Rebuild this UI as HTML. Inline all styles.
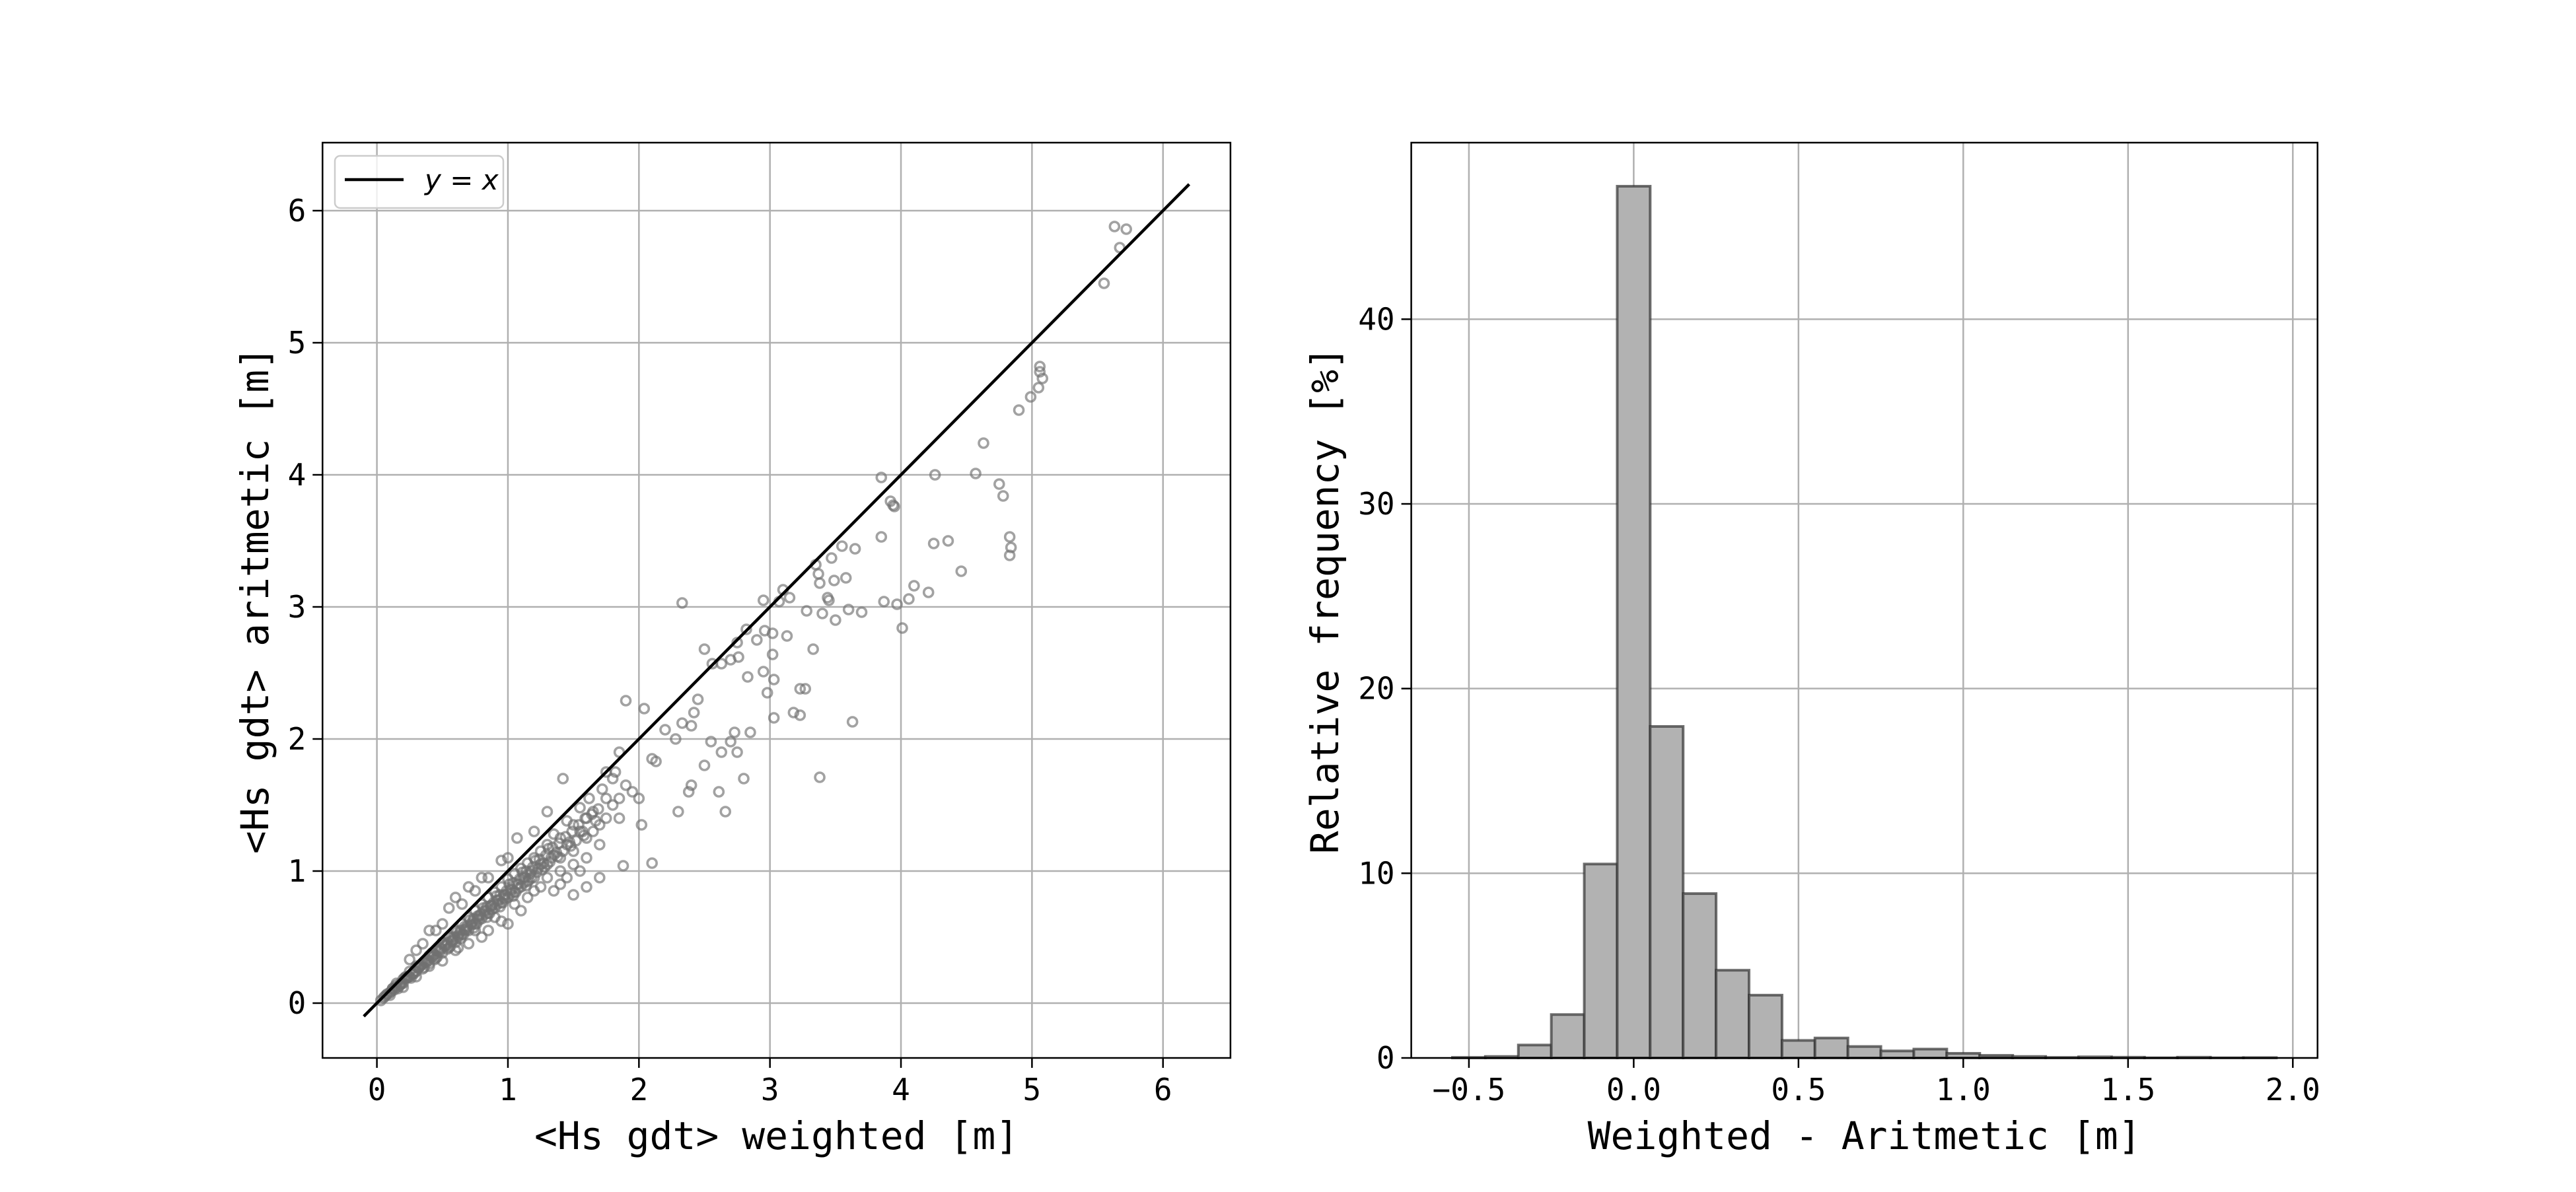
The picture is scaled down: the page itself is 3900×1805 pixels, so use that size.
<!DOCTYPE html>
<html><head><meta charset="utf-8"><style>
html,body{margin:0;padding:0;background:#fff;}
svg text{font-family:"DejaVu Sans Mono","Liberation Mono",monospace;fill:#000;}
</style></head><body>
<svg id="fig" width="3900" height="1800" viewBox="0 0 3900 1800" xmlns="http://www.w3.org/2000/svg">
<rect x="0" y="0" width="3900" height="1800" fill="#fff"/>
<g id="left"></g>
<g id="right"></g>
</svg>
<script>
// ---- scatter data ----
const scatterX = [5.63,5.72,5.67,5.55,5.06,5.06,5.08,5.05,4.99,4.90,4.63,4.26,4.57,4.75,4.78,3.85,3.92,3.94,3.95,4.83,4.84,4.83,4.36,4.25,4.46,3.85,3.55,3.65,3.47,4.10,4.21,3.58,3.49,3.37,3.38,3.15,3.10,3.35,3.87,3.97,4.06,4.01,3.44,3.45,3.60,3.70,3.50,3.40,3.28,2.33,2.95,3.07,2.82,2.96,2.75,3.02,3.13,2.76,2.70,2.90,2.63,2.50,2.56,3.33,3.02,2.83,2.95,3.03,2.98,3.23,3.27,3.18,3.23,3.03,3.63,1.90,2.04,2.45,2.42,2.40,2.33,2.20,2.10,2.28,2.55,2.70,2.73,2.85,2.50,2.63,2.75,2.40,2.38,2.30,2.61,2.66,2.80,3.38,2.00,2.02,1.88,2.10,1.85,1.90,2.13,1.75,1.85,
0.05,0.08,0.1,0.12,0.15,0.15,0.18,0.2,0.2,0.22,0.25,0.25,0.28,0.3,0.3,0.32,0.35,0.35,0.38,0.4,0.4,0.42,0.45,0.45,0.48,0.5,0.5,0.52,0.55,0.55,0.58,0.6,0.6,0.62,0.65,0.65,0.68,0.7,0.7,0.72,0.75,0.75,0.78,0.8,0.8,0.82,0.85,0.85,0.88,0.9,0.9,0.92,0.95,0.95,0.98,1.0,1.0,1.02,1.05,1.05,1.08,1.1,1.1,1.12,1.15,1.15,1.18,1.2,1.2,1.25,1.25,1.3,1.3,1.35,1.4,1.4,1.45,1.5,1.5,1.55,1.6,1.6,1.65,1.7,1.75,1.8,1.8,1.42,1.3,1.2,1.07,0.95,0.8,0.7,0.6,0.55,0.4,0.35,0.3,0.25,0.5,0.45,0.65,0.75,0.85,1.0,0.6,0.75,0.9,1.05,1.2,1.3,1.4,1.5,1.6,1.7,1.55,1.45,1.35,1.0,1.1,0.8,0.62,0.4,0.5,0.7,0.95,1.25,1.65,1.75,1.85,1.95,1.7,1.6,1.5,1.4,0.3,0.2,0.1,1.15,0.85,1.35,1.45,1.55,1.62,1.72,1.82,
0.03,0.06,0.13,0.17,0.23,0.27,0.33,0.37,0.43,0.47,0.53,0.57,0.63,0.67,0.73,0.77,0.83,0.87,0.93,0.97,1.03,1.13,1.23,1.33,0.16,0.26,0.36,0.46,0.56,0.66,0.76,0.86,0.96,1.06,1.16,1.26,
0.07,0.11,0.14,0.19,0.21,0.24,0.29,0.31,0.34,0.39,0.41,0.44,0.49,0.51,0.54,0.59,0.61,0.64,0.69,0.71,0.74,0.79,0.81,0.84,0.89,0.91,0.94,0.99,1.01,1.04,1.09,1.11,1.14,1.19,1.21,1.24,1.29,1.31,1.34,1.39,1.44,1.49,1.54,1.59,1.64,1.69,
0.12,0.22,0.32,0.42,0.52,0.62,0.72,0.82,0.92,1.02,1.12,1.22,1.32,1.42,1.52,0.18,0.28,0.38,0.48,0.58,0.68,0.78,0.88,0.98,1.08,1.18,1.28,1.38,1.48,1.58,
0.44,0.54,0.64,0.74,0.84,0.94,1.04,1.14,0.57,0.67,0.77,0.87,0.97,1.07,1.17,1.27,1.37,1.47,1.57,1.67];
const scatterY = [5.88,5.86,5.72,5.45,4.82,4.78,4.73,4.66,4.59,4.49,4.24,4.00,4.01,3.93,3.84,3.98,3.80,3.77,3.76,3.53,3.45,3.39,3.50,3.48,3.27,3.53,3.46,3.44,3.37,3.16,3.11,3.22,3.20,3.25,3.18,3.07,3.13,3.32,3.04,3.02,3.06,2.84,3.07,3.05,2.98,2.96,2.90,2.95,2.97,3.03,3.05,3.04,2.83,2.82,2.73,2.80,2.78,2.62,2.60,2.75,2.57,2.68,2.57,2.68,2.64,2.47,2.51,2.45,2.35,2.38,2.38,2.20,2.18,2.16,2.13,2.29,2.23,2.30,2.20,2.10,2.12,2.07,1.85,2.00,1.98,1.98,2.05,2.05,1.80,1.90,1.90,1.65,1.60,1.45,1.60,1.45,1.70,1.71,1.55,1.35,1.04,1.06,1.40,1.65,1.83,1.75,1.90,
0.04,0.07,0.08,0.11,0.12,0.15,0.14,0.18,0.15,0.2,0.2,0.24,0.22,0.28,0.24,0.27,0.3,0.26,0.33,0.36,0.3,0.38,0.4,0.34,0.42,0.46,0.38,0.44,0.5,0.42,0.48,0.55,0.46,0.5,0.6,0.52,0.56,0.65,0.55,0.6,0.7,0.6,0.66,0.75,0.64,0.7,0.8,0.68,0.74,0.84,0.72,0.78,0.88,0.76,0.82,0.94,0.8,0.86,0.98,0.84,0.9,1.02,0.88,0.95,1.06,0.92,1.0,1.1,0.95,1.05,1.15,1.2,1.05,1.12,1.25,1.1,1.2,1.35,1.15,1.3,1.4,1.25,1.45,1.35,1.55,1.5,1.7,1.7,1.45,1.3,1.25,1.08,0.95,0.88,0.8,0.72,0.55,0.45,0.4,0.33,0.6,0.55,0.75,0.85,0.95,1.1,0.4,0.55,0.65,0.75,0.85,0.95,1.0,1.05,1.1,1.2,1.0,0.95,0.85,0.6,0.7,0.5,0.42,0.28,0.32,0.45,0.62,0.88,1.3,1.4,1.55,1.6,0.95,0.88,0.82,0.9,0.2,0.12,0.06,0.8,0.55,1.28,1.38,1.48,1.55,1.62,1.75,
0.02,0.05,0.1,0.13,0.19,0.22,0.28,0.31,0.36,0.4,0.44,0.47,0.53,0.56,0.62,0.64,0.7,0.73,0.78,0.8,0.86,0.95,1.02,1.1,0.11,0.19,0.27,0.35,0.43,0.52,0.6,0.68,0.76,0.84,0.93,1.01,
0.06,0.09,0.13,0.15,0.19,0.2,0.24,0.27,0.29,0.32,0.36,0.37,0.41,0.45,0.46,0.5,0.54,0.55,0.58,0.63,0.64,0.67,0.72,0.73,0.76,0.81,0.82,0.85,0.9,0.91,0.94,0.99,1.0,1.03,1.08,1.09,1.12,1.17,1.18,1.21,1.26,1.3,1.35,1.4,1.43,1.47,
0.11,0.19,0.27,0.35,0.43,0.51,0.59,0.67,0.75,0.83,0.91,0.99,1.07,1.15,1.23,0.15,0.23,0.31,0.39,0.47,0.55,0.63,0.71,0.79,0.87,0.95,1.03,1.11,1.19,1.27,
0.33,0.41,0.49,0.57,0.65,0.73,0.81,0.89,0.5,0.58,0.66,0.74,0.82,0.9,0.98,1.06,1.14,1.22,1.3,1.38];
const lineX = [-0.1, 6.2];
const xTicksL = [0,1,2,3,4,5,6];
const yTicksL = [0,1,2,3,4,5,6];
// ---- histogram data ----
const binStart = [-0.55,-0.45,-0.35,-0.25,-0.15,-0.05,0.05,0.15,0.25,0.35,0.45,0.55,0.65,0.75,0.85,0.95,1.05,1.15,1.25,1.35,1.45,1.55,1.65,1.75,1.85];
const freq = [0.03,0.08,0.7,2.35,10.5,47.2,17.95,8.9,4.75,3.4,0.95,1.08,0.62,0.38,0.48,0.25,0.14,0.08,0.03,0.06,0.04,0.01,0.04,0.01,0.02];
const binWidth = 0.1;
const xTicksR = [-0.5,0.0,0.5,1.0,1.5,2.0];
const xTickLabelsR = ["\u22120.5","0.0","0.5","1.0","1.5","2.0"];
const yTicksR = [0,10,20,30,40];

const NS="http://www.w3.org/2000/svg";
function mk(parent,tag,attrs){const e=document.createElementNS(NS,tag);for(const k in attrs)e.setAttribute(k,attrs[k]);parent.appendChild(e);return e;}

const T=216, B=1602;
const L={x0:488.3,x1:1862.9,xmin:-0.415,xmax:6.515,ymin:-0.415,ymax:6.515};
const lx=v=>L.x0+(v-L.xmin)/(L.xmax-L.xmin)*(L.x1-L.x0);
const ly=v=>B-(v-L.ymin)/(L.ymax-L.ymin)*(B-T);
const R={x0:2136.6,x1:3508.7,xmin:-0.675,xmax:2.075,ymin:0,ymax:49.56};
const rx=v=>R.x0+(v-R.xmin)/(R.xmax-R.xmin)*(R.x1-R.x0);
const ry=v=>B-(v-R.ymin)/(R.ymax-R.ymin)*(B-T);

const gl=document.getElementById('left');
const gr=document.getElementById('right');

xTicksL.forEach(v=>{const e=mk(gl,'line',{x1:lx(v),x2:lx(v),y1:T,y2:B,stroke:'#b0b0b0','stroke-width':2.5});

});
yTicksL.forEach(v=>{const e=mk(gl,'line',{x1:L.x0,x2:L.x1,y1:ly(v),y2:ly(v),stroke:'#b0b0b0','stroke-width':2.5});

});
for(let i=0;i<scatterX.length;i++){
const c=mk(gl,'circle',{cx:lx(scatterX[i]),cy:ly(scatterY[i]),r:7,fill:'none',stroke:'#707070','stroke-opacity':0.65,'stroke-width':3.6});

}
const ln=mk(gl,'line',{x1:lx(lineX[0]),y1:ly(lineX[0]),x2:lx(lineX[1]),y2:ly(lineX[1]),stroke:'#000','stroke-width':4.5});


const fl=mk(gl,'rect',{x:L.x0,y:T,width:L.x1-L.x0,height:B-T,fill:'none',stroke:'#000','stroke-width':2.5});


xTicksL.forEach(v=>{mk(gl,'line',{x1:lx(v),x2:lx(v),y1:B,y2:B+15,stroke:'#000','stroke-width':2.5});
const t=mk(gl,'text',{x:lx(v),y:B+64,'font-size':46,'text-anchor':'middle'});t.textContent=String(v);

});
yTicksL.forEach(v=>{mk(gl,'line',{x1:L.x0-15,x2:L.x0,y1:ly(v),y2:ly(v),stroke:'#000','stroke-width':2.5});
const t=mk(gl,'text',{x:L.x0-25,y:ly(v)+16,'font-size':46,'text-anchor':'end'});t.textContent=String(v);

});
const lg=mk(gl,'g',{});


mk(lg,'rect',{x:507,y:236,width:255,height:79,rx:8,fill:'#fff','fill-opacity':0.8,stroke:'#cccccc','stroke-width':2.5});
mk(lg,'line',{x1:522,x2:611,y1:272,y2:272,stroke:'#000','stroke-width':4.5});
const lt=mk(lg,'text',{x:643,y:287,'font-size':42,'font-style':'italic'});
lt.setAttribute('style','font-family:"DejaVu Sans","Liberation Sans",sans-serif');
lt.textContent='y = x';


const xl=mk(gl,'text',{x:(L.x0+L.x1)/2,y:1740,'font-size':58,'text-anchor':'middle'});xl.textContent='<Hs gdt> weighted [m]';


const yl=mk(gl,'text',{x:0,y:0,'font-size':58,'text-anchor':'middle',transform:'translate(406,'+((T+B)/2)+') rotate(-90)'});yl.textContent='<Hs gdt> aritmetic [m]';



xTicksR.forEach(v=>{const e=mk(gr,'line',{x1:rx(v),x2:rx(v),y1:T,y2:B,stroke:'#b0b0b0','stroke-width':2.5});

});
yTicksR.forEach(v=>{const e=mk(gr,'line',{x1:R.x0,x2:R.x1,y1:ry(v),y2:ry(v),stroke:'#b0b0b0','stroke-width':2.5});

});
for(let i=0;i<freq.length;i++){
const x0=rx(binStart[i]),x1=rx(binStart[i]+binWidth);
const b=mk(gr,'rect',{x:x0,y:ry(freq[i]),width:x1-x0,height:ry(0)-ry(freq[i]),fill:'#b2b2b2',stroke:'#333','stroke-opacity':0.7,'stroke-width':4});

}
const fr=mk(gr,'rect',{x:R.x0,y:T,width:R.x1-R.x0,height:B-T,fill:'none',stroke:'#000','stroke-width':2.5});


xTicksR.forEach((v,i)=>{mk(gr,'line',{x1:rx(v),x2:rx(v),y1:B,y2:B+15,stroke:'#000','stroke-width':2.5});
const t=mk(gr,'text',{x:rx(v),y:B+64,'font-size':46,'text-anchor':'middle'});t.textContent=xTickLabelsR[i];

});
yTicksR.forEach(v=>{mk(gr,'line',{x1:R.x0-15,x2:R.x0,y1:ry(v),y2:ry(v),stroke:'#000','stroke-width':2.5});
const t=mk(gr,'text',{x:R.x0-25,y:ry(v)+16,'font-size':46,'text-anchor':'end'});t.textContent=String(v);

});
const xr=mk(gr,'text',{x:(R.x0+R.x1)/2,y:1740,'font-size':58,'text-anchor':'middle'});xr.textContent='Weighted - Aritmetic [m]';


const yr=mk(gr,'text',{x:0,y:0,'font-size':58,'text-anchor':'middle',transform:'translate(2026,'+((T+B)/2)+') rotate(-90)'});yr.textContent='Relative frequency [%]';


</script>
</body></html>
